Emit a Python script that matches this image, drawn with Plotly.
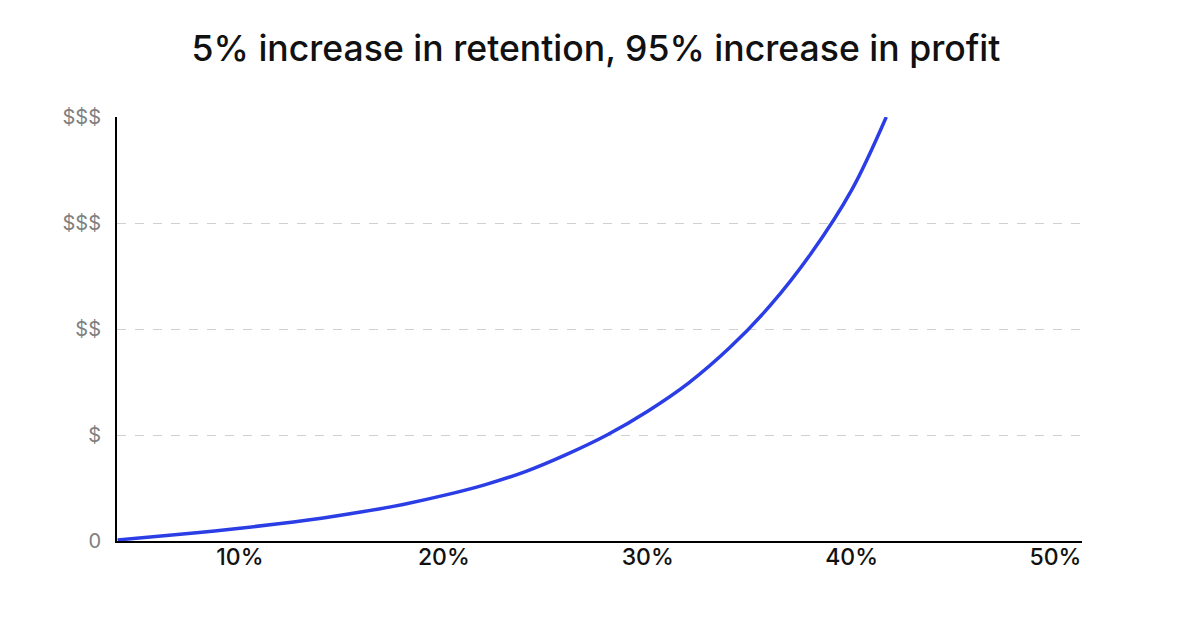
import plotly.graph_objects as go

title_text = "5% increase in retention, 95% increase in profit"
retention = [4, 6, 8, 10, 12, 14, 16, 18, 20, 22, 24, 26, 28, 30, 32, 34, 36, 38, 40, 41.7]
profit = [0.01, 0.045, 0.08, 0.12, 0.165, 0.215, 0.275, 0.345, 0.43, 0.53, 0.655, 0.815, 1.0, 1.225, 1.49, 1.82, 2.22, 2.71, 3.31, 4.0]
x_ticks = [10, 20, 30, 40, 50]
x_labels = ["10%", "20%", "30%", "40%", "50%"]
y_ticks = [0, 1, 2, 3, 4]
y_labels = ["0", "$", "$$", "$$$", "$$$"]

fig = go.Figure()
fig.add_trace(go.Scatter(x=retention, y=profit, mode="lines",
                         line=dict(color="#2B3EE6", width=3.5, shape="spline", smoothing=1.0),
                         hoverinfo="skip", showlegend=False))

fig.update_layout(
    width=1200, height=630,
    paper_bgcolor="white", plot_bgcolor="white",
    margin=dict(l=109, r=126, t=109, b=97),
    title=dict(text=title_text, x=(596 - 8) / 1200, xanchor="center", y=1 - 41 / 630, yanchor="middle",
               font=dict(family="Inter", size=35.6, color="#111111", weight=500)),
    font=dict(family="Inter"),
    xaxis=dict(range=[3.97, 51.3], tickvals=x_ticks, ticktext=x_labels,
               showgrid=False, zeroline=False, showline=True, linecolor="#000000", linewidth=2,
               ticks="", ticklabelstandoff=-6,
               tickfont=dict(family="Inter", size=23, color="#111111", weight=500)),
    yaxis=dict(range=[0, 4], tickvals=y_ticks, ticktext=y_labels,
               showgrid=True, gridcolor="#d0d0d0", griddash="dash", gridwidth=1,
               zeroline=False, showline=True, linecolor="#000000", linewidth=2,
               ticks="", ticklabelstandoff=10,
               tickfont=dict(family="Inter", size=20, color="#808080")),
)

fig.write_html("out.html")
